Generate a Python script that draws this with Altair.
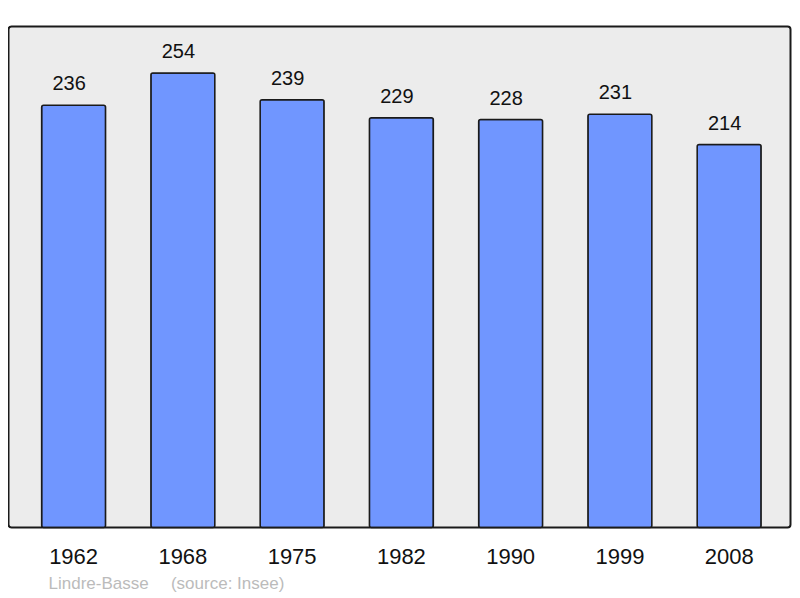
import altair as alt
import pandas as pd

years = ["1962", "1968", "1975", "1982", "1990", "1999", "2008"]
population = [236, 254, 239, 229, 228, 231, 214]

df = pd.DataFrame({"year": years, "pop": population})

FONT = "Liberation Sans"

x = alt.X("year:N", sort=years,
          scale=alt.Scale(paddingInner=0.4146, paddingOuter=0.286, align=0.53),
          axis=alt.Axis(title=None, labelAngle=0, domain=False, ticks=False,
                        labelFontSize=22, labelFont=FONT, labelColor="#111",
                        labelPadding=19))
y = alt.Y("pop:Q", scale=alt.Scale(domain=[0, 280], nice=False, zero=True),
          axis=None)

bars = alt.Chart(df).mark_bar(
    color="#7096ff", stroke="#1a1a1a", strokeWidth=1.5, cornerRadius=2
).encode(x=x, y=y)

labels = alt.Chart(df).mark_text(
    baseline="alphabetic", dy=-15, dx=-4.5, fontSize=20, font=FONT, color="#111"
).encode(x=x, y=y, text="pop:Q")

chart = (bars + labels).properties(
    width=782, height=501,
    padding={"left": 0.5, "top": 18.5, "right": 1, "bottom": 68},
    autosize=alt.AutoSizeParams(type="none"),
    background="white",
    title=alt.TitleParams(
        "Lindre-Basse\u00a0\u00a0\u00a0\u00a0\u2009(source: Insee)",
        orient="bottom", anchor="start", dx=40, offset=8,
        fontSize=17, font=FONT, fontWeight="normal", color="#bbbbbb"
    ),
).configure_view(
    fill="#ececec", stroke="#1a1a1a", strokeWidth=2, cornerRadius=3
)

chart.save("out.html", embed_options={"renderer": "svg", "actions": False})
